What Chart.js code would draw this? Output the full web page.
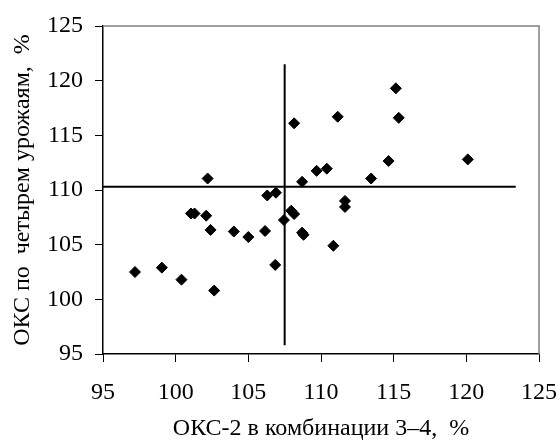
<!DOCTYPE html>
<html>
<head>
<meta charset="utf-8">
<script src="https://cdn.jsdelivr.net/npm/chart.js@4"></script>
<style>
  html, body { margin: 0; padding: 0; background: #fff; }
  #wrap { width: 558px; height: 442px; }
</style>
</head>
<body>
<div id="wrap"><canvas id="c"></canvas></div>
<script>
// ОКС-2 в комбинации 3–4 (x) vs ОКС по четырем урожаям (y)
const xValues = [97.2, 99.05, 100.4, 102.65, 102.4, 104.0, 105.0, 106.15, 106.85,
  102.2, 108.7, 109.7, 106.3, 106.9, 101.05, 101.3, 102.1, 107.45, 107.95, 108.15,
  108.7, 108.8, 111.65, 111.65, 110.85, 115.15, 115.35, 111.15, 120.1, 114.65,
  113.45, 110.4, 108.15];
const yValues = [102.5, 102.9, 101.8, 100.8, 106.35, 106.2, 105.7, 106.25, 103.15,
  111.05, 110.75, 111.75, 109.5, 109.75, 107.85, 107.85, 107.65, 107.25, 108.1, 107.8,
  106.1, 105.9, 109.0, 108.45, 104.9, 119.3, 116.6, 116.7, 112.8, 112.65,
  111.05, 111.95, 116.1];

// mean lines
const vLineX = [107.5, 107.5];
const vLineY = [95.8, 121.5];
const hLineX = [95, 123.4];
const hLineY = [110.3, 110.3];

const tickValues = [95, 100, 105, 110, 115, 120, 125];

const toPoints = (xs, ys) => xs.map((x, i) => ({ x: x, y: ys[i] }));

const serif = "'Liberation Serif', 'Times New Roman', serif";

// gray frame on top and right, like the original
const framePlugin = {
  id: "frame",
  beforeDatasetsDraw(chart) {
    const { ctx, chartArea: a } = chart;
    ctx.save();
    ctx.strokeStyle = "#808080";
    ctx.lineWidth = 1.5;
    ctx.beginPath();
    ctx.moveTo(a.left, a.top);
    ctx.lineTo(a.right, a.top);
    ctx.lineTo(a.right, a.bottom);
    ctx.stroke();
    ctx.restore();
  },
};

new Chart(document.getElementById("c"), {
  type: "scatter",
  data: {
    datasets: [
      {
        data: toPoints(xValues, yValues),
        pointStyle: "rectRot",
        pointRadius: 5.5,
        backgroundColor: "#000",
        borderColor: "#000",
        borderWidth: 1,
      },
      {
        data: toPoints(vLineX, vLineY),
        showLine: true,
        borderColor: "#000",
        borderWidth: 2,
        pointRadius: 0,
      },
      {
        data: toPoints(hLineX, hLineY),
        showLine: true,
        borderColor: "#000",
        borderWidth: 2,
        pointRadius: 0,
      },
    ],
  },
  options: {
    responsive: true,
    maintainAspectRatio: false,
    animation: false,
    events: [],
    layout: { padding: { left: 0, top: 26, right: 19, bottom: 0 } },
    plugins: {
      legend: { display: false },
      tooltip: { enabled: false },
    },
    scales: {
      x: {
        type: "linear",
        min: 95,
        max: 125,
        afterBuildTicks(scale) {
          scale.ticks = tickValues.map((v) => ({ value: v }));
        },
        afterFit(scale) {
          scale.height = 88;
          scale.paddingLeft = 0;
          scale.paddingRight = 0;
        },
        grid: {
          drawOnChartArea: false,
          color: "#000",
          tickLength: 8,
          lineWidth: 1,
        },
        border: { color: "#000", width: 1.5 },
        ticks: {
          color: "#000",
          padding: 16,
          font: { family: serif, size: 24 },
        },
        title: {
          display: true,
          text: "ОКС-2 в комбинации 3–4,  %",
          color: "#000",
          font: { family: serif, size: 24, lineHeight: 1 },
          padding: { top: 0, bottom: 1 },
        },
      },
      y: {
        type: "linear",
        min: 95,
        max: 125,
        afterBuildTicks(scale) {
          scale.ticks = tickValues.map((v) => ({ value: v }));
        },
        afterFit(scale) {
          scale.width = 103;
          scale.paddingTop = 0;
          scale.paddingBottom = 0;
        },
        grid: {
          drawOnChartArea: false,
          color: "#000",
          tickLength: 8,
          lineWidth: 1,
        },
        border: { color: "#000", width: 1.5 },
        ticks: {
          color: "#000",
          padding: 12,
          font: { family: serif, size: 24 },
        },
        title: {
          display: true,
          text: "ОКС по  четырем урожаям,  %",
          color: "#000",
          font: { family: serif, size: 24, lineHeight: 1 },
          padding: { top: 11, bottom: 0 },
        },
      },
    },
  },
  plugins: [framePlugin],
});
</script>
</body>
</html>
